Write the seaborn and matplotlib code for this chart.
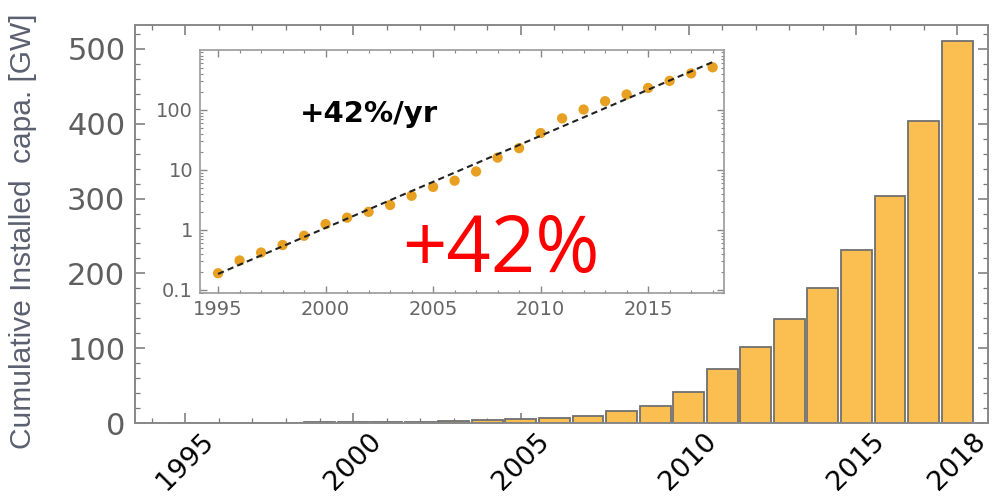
import matplotlib
matplotlib.use('Agg')
import matplotlib.pyplot as plt
import matplotlib.ticker as mticker
import seaborn as sns
import pandas as pd
import numpy as np

# Datos (capacidad acumulada en GW)
years = list(range(1995, 2019))
capacity_gw = [0.19, 0.31, 0.42, 0.56, 0.80, 1.25, 1.6, 2.0, 2.6, 3.7,
               5.2, 6.6, 9.4, 16, 23, 41, 72, 101, 139, 180,
               231, 303, 404, 510]

main_xticks = [1995, 2000, 2005, 2010, 2015, 2018]
main_yticks = [0, 100, 200, 300, 400, 500]
inset_xticks = [1995, 2000, 2005, 2010, 2015]
inset_yticks = [0.1, 1, 10, 100]
inset_ylabels = ['0.1', '1', '10', '100']

ylabel_text = 'Cumulative Installed  capa. [GW]'
rate_text = '+42%/yr'
big_text = '+42%'

df = pd.DataFrame({'year': years, 'capacity': capacity_gw})

# Ajuste exponencial (recta en escala log)
coef = np.polyfit(df['year'], np.log10(df['capacity']), 1)
df['fit'] = 10 ** np.polyval(coef, df['year'])

sns.set_style('ticks')
plt.rcParams['font.family'] = ['DejaVu Sans']

fig = plt.figure(figsize=(10.01, 4.99), dpi=100)

# Grafico principal de barras
ax = fig.add_axes([0.1349, 0.1523, 0.8521, 0.7977])
sns.barplot(data=df, x='year', y='capacity', native_scale=True, width=0.92,
            color='#FBBE50', saturation=1, edgecolor='#707070', linewidth=1.3,
            errorbar=None, ax=ax)
ax.set_xlim(1993.5, 2018.92)
ax.set_ylim(0, 532)
ax.set_xticks(main_xticks)
ax.set_xticklabels([str(y) for y in main_xticks])
ax.set_yticks(main_yticks)
ax.xaxis.set_minor_locator(mticker.MultipleLocator(1))
ax.yaxis.set_minor_locator(mticker.MultipleLocator(20))
ax.tick_params(which='both', direction='in', top=True, right=True, color='#777777')
ax.tick_params(which='major', length=7, width=1.1)
ax.tick_params(which='minor', length=3.5, width=0.9)
ax.tick_params(axis='y', labelsize=22, labelcolor='#5f5f5f', pad=7)
ax.tick_params(axis='x', labelsize=19.5, labelcolor='black', pad=4)
plt.setp(ax.get_xticklabels(), rotation=45, ha='center')
ax.set_xlabel('')
ax.set_ylabel('')
for s in ax.spines.values():
    s.set_color('#888888')
    s.set_linewidth(1.4)

fig.text(0.023, 0.1, ylabel_text, rotation=90, ha='center', va='bottom',
         fontsize=21.5, color='#5b6070', family=['Liberation Sans', 'DejaVu Sans'])

# Inserto en escala logaritmica
ins = fig.add_axes([0.1998, 0.4128, 0.5235, 0.487])
ins.set_facecolor('white')
sns.scatterplot(data=df, x='year', y='capacity', s=55, color='#E8A022',
                edgecolor='none', zorder=3, ax=ins)
sns.lineplot(data=df, x='year', y='fit', color='#222222', linewidth=1.5,
             linestyle=(0, (3, 2)), zorder=4, ax=ins)
ins.set_yscale('log')
ins.set_xlim(1994.16, 2018.53)
ins.set_ylim(0.089, 990)
ins.set_xticks(inset_xticks)
ins.set_xticklabels([str(y) for y in inset_xticks])
ins.set_yticks(inset_yticks)
ins.set_yticklabels(inset_ylabels)
ins.xaxis.set_minor_locator(mticker.MultipleLocator(1))
ins.yaxis.set_minor_locator(mticker.LogLocator(base=10, subs=np.arange(2, 10)))
ins.yaxis.set_minor_formatter(mticker.NullFormatter())
ins.tick_params(which='both', direction='in', top=True, right=True, color='#888888')
ins.tick_params(which='major', length=5, width=1)
ins.tick_params(which='minor', length=2.5, width=0.8)
ins.tick_params(axis='both', labelsize=14, labelcolor='#666666')
ins.tick_params(axis='x', pad=5)
ins.tick_params(axis='y', pad=5)
ins.set_xlabel('')
ins.set_ylabel('')
for s in ins.spines.values():
    s.set_color('#999999')
    s.set_linewidth(1.2)

ins.text(0.3225, 0.704, rate_text, transform=ins.transAxes, ha='center',
         va='baseline', fontsize=21, fontweight='bold', color='black')
ins.text(0.5735, 0.0864, big_text, transform=ins.transAxes, ha='center',
         va='baseline', fontsize=56, color='#FF0000', family=['Open Sans', 'DejaVu Sans'])

fig.savefig('out.png', dpi=100)
